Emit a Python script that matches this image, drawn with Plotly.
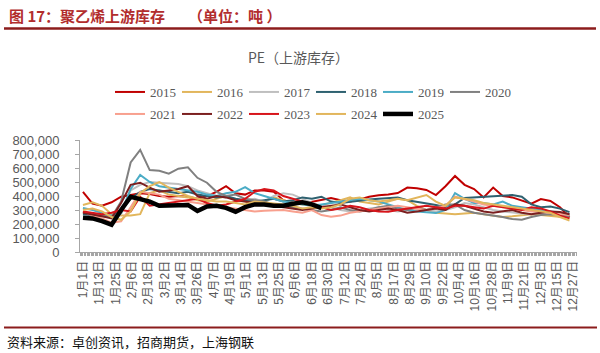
import pandas as pd
import plotly.graph_objects as go

# ---------------- data (thousand tons, weekly from 1 Jan) ----------------
years = ["2015", "2016", "2017", "2018", "2019", "2020",
         "2021", "2022", "2023", "2024", "2025"]

v2015 = [430, 345, 330, 355, 395, 410, 420, 415, 400, 395, 400, 395, 380, 400, 430, 470, 420, 410,
         440, 440, 430, 370, 350, 345, 360, 375, 385, 370, 360, 375, 395, 405, 410, 421, 460, 455,
         443, 407, 470, 543, 480, 450, 390, 460, 400, 390, 370, 345, 378, 365, 320, 250]
v2016 = [336, 355, 330, 270, 260, 260, 270, 420, 440, 410, 400, 390, 370, 360, 380, 400, 370, 360,
         340, 360, 390, 370, 350, 340, 330, 335, 350, 370, 390, 360, 350, 340, 360, 380, 370, 330,
         300, 280, 275, 270, 275, 280, 270, 260, 250, 255, 260, 270, 265, 260, 255, 245]
v2017 = [280, 270, 260, 250, 270, 440, 480, 500, 495, 490, 485, 470, 440, 420, 400, 390, 380, 370,
         380, 360, 400, 420, 410, 380, 350, 330, 320, 300, 290, 300, 310, 320, 300, 290, 300, 310,
         300, 290, 300, 320, 350, 340, 320, 300, 290, 280, 275, 270, 280, 275, 270, 260]
v2018 = [270, 265, 255, 250, 300, 380, 430, 450, 440, 430, 420, 430, 410, 400, 390, 400, 380, 370,
         360, 370, 380, 360, 370, 390, 380, 395, 360, 350, 360, 370, 375, 380, 385, 390, 370, 360,
         345, 335, 320, 340, 386, 390, 395, 400, 405, 407, 395, 340, 320, 325, 310, 285]
v2019 = [314, 300, 280, 260, 280, 450, 550, 500, 470, 460, 450, 440, 430, 410, 400, 420, 430, 464,
         420, 400, 380, 360, 350, 340, 330, 340, 350, 360, 370, 380, 370, 360, 340, 320, 300, 290,
         285, 278, 300, 421, 380, 350, 350, 340, 360, 330, 320, 310, 300, 290, 280, 270]
v2020 = [285, 270, 260, 250, 360, 640, 730, 585, 580, 560, 595, 605, 530, 495, 430, 400, 410, 380,
         370, 360, 340, 330, 320, 310, 300, 290, 300, 320, 300, 290, 300, 320, 330, 310, 300, 320,
         300, 320, 340, 340, 300, 280, 270, 265, 250, 235, 230, 250, 265, 270, 265, 250]
v2021 = [290, 260, 240, 210, 220, 320, 430, 420, 410, 380, 370, 360, 350, 340, 330, 320, 310, 300,
         290, 295, 300, 300, 290, 280, 300, 264, 252, 260, 280, 290, 300, 310, 320, 330, 320, 310,
         300, 310, 330, 395, 380, 360, 340, 330, 320, 310, 300, 290, 288, 280, 275, 264]
v2022 = [280, 270, 255, 240, 350, 480, 495, 460, 430, 440, 450, 470, 400, 380, 400, 390, 370, 360,
         350, 340, 330, 320, 310, 300, 310, 320, 330, 340, 320, 300, 290, 300, 310, 300, 280, 290,
         300, 310, 300, 340, 330, 310, 290, 280, 290, 300, 280, 270, 280, 290, 285, 270]
v2023 = [290, 280, 270, 280, 300, 290, 395, 330, 340, 350, 360, 370, 380, 350, 330, 340, 360, 380,
         430, 450, 440, 400, 380, 360, 340, 320, 300, 310, 330, 320, 300, 290, 288, 300, 310, 320,
         330, 320, 310, 330, 330, 320, 310, 330, 320, 310, 300, 320, 310, 290, 260, 240]
v2024 = [300, 310, 290, 250, 230, 290, 420, 470, 500, 460, 430, 400, 380, 370, 360, 360, 350, 340,
         360, 355, 345, 340, 330, 310, 320, 310, 320, 340, 380, 390, 370, 360, 370, 380, 370, 390,
         407, 360, 330, 390, 380, 370, 350, 340, 330, 320, 310, 300, 290, 280, 250, 225]
v2025 = [245, 240, 220, 195, 300, 395, 378, 360, 330, 333, 336, 336, 293, 325, 330, 315, 288, 320,
         340, 340, 330, 330, 345, 355, 340, 314]

series = {"2015": v2015, "2016": v2016, "2017": v2017, "2018": v2018, "2019": v2019,
          "2020": v2020, "2021": v2021, "2022": v2022, "2023": v2023, "2024": v2024,
          "2025": v2025}

colors = {"2015": "#C00000", "2016": "#E2B65C", "2017": "#BFBFBF", "2018": "#2E6170",
          "2019": "#4BACC6", "2020": "#808080", "2021": "#F8A08E", "2022": "#7B1F1F",
          "2023": "#D7141A", "2024": "#E2B65C", "2025": "#000000"}

week_dates = pd.date_range("2025-01-01", periods=52, freq="7D")

tick_labels = ["1月1日", "1月13日", "1月25日", "2月6日", "2月18日", "3月2日", "3月14日",
               "3月26日", "4月7日", "4月19日", "5月1日", "5月13日", "5月25日", "6月6日",
               "6月18日", "6月30日", "7月12日", "7月24日", "8月5日", "8月17日", "8月29日",
               "9月10日", "9月22日", "10月4日", "10月16日", "10月28日", "11月9日", "11月21日",
               "12月3日", "12月15日", "12月27日"]
tick_dates = pd.date_range("2025-01-01", periods=len(tick_labels), freq="12D")

# ---------------- layout geometry ----------------
W, H = 600, 353
L, R, T, B = 80, 577, 140, 252


def px(x):
    return (x - L) / (R - L)


def py(y):
    return (B - y) / (B - T)


GRAY = "#595959"
fig = go.Figure()

for yr in years:
    vals = [v * 1000 for v in series[yr]]
    fig.add_trace(go.Scatter(
        x=week_dates[:len(vals)], y=vals, mode="lines", name=yr,
        line=dict(color=colors[yr], width=4.5 if yr == "2025" else 2),
        legend="legend" if int(yr) <= 2020 else "legend2",
        hoverinfo="skip",
    ))

legend_common = dict(orientation="h", xanchor="left", yanchor="middle",
                      font=dict(family="Liberation Serif", size=13, color=GRAY),
                      bgcolor="rgba(0,0,0,0)", entrywidth=22, entrywidthmode="pixels",
                      itemwidth=30, tracegroupgap=0, traceorder="normal")

fig.update_layout(
    width=W, height=H,
    margin=dict(l=L, r=W - R, t=T, b=H - B, pad=0),
    paper_bgcolor="white", plot_bgcolor="white",
    showlegend=True,
    legend=dict(x=px(110), y=py(92), **legend_common),
    legend2=dict(x=px(110), y=py(114), **legend_common),
    xaxis=dict(
        type="date",
        range=["2024-12-29 20:00", "2025-12-29 12:00"],
        tickmode="array", tickvals=tick_dates, ticktext=tick_labels,
        tickangle=-90, ticks="outside", ticklen=3, tickcolor="#A6A6A6",
        tickfont=dict(family="Liberation Sans, Noto Sans CJK SC", size=12, color=GRAY),
        showline=True, linecolor="#A6A6A6", linewidth=1,
        showgrid=False, zeroline=False,
        minor=dict(dtick=86400000, tick0="2025-01-01", ticks="outside", ticklen=3,
                   tickcolor="#A6A6A6", showgrid=False),
    ),
    yaxis=dict(
        range=[0, 800000], tickmode="linear", tick0=0, dtick=100000,
        tickformat=",d", ticks="outside", ticklen=4, tickcolor="#A6A6A6",
        tickfont=dict(family="Liberation Sans, Arial", size=13, color=GRAY),
        showline=True, linecolor="#A6A6A6", linewidth=1,
        showgrid=False, zeroline=False, ticklabelstandoff=13,
    ),
    annotations=[
        dict(text="<b>图 17：聚乙烯上游库存</b>", xref="paper", yref="paper",
             x=px(7), y=py(15), xanchor="left", yanchor="middle", showarrow=False,
             font=dict(family="Noto Sans CJK SC", size=15, color="#B22D2D")),
        dict(text="<b>（单位：吨 ）</b>", xref="paper", yref="paper",
             x=px(186), y=py(15), xanchor="left", yanchor="middle", showarrow=False,
             font=dict(family="Noto Sans CJK SC", size=15, color="#B22D2D")),
        dict(text="PE（上游库存）", xref="paper", yref="paper",
             x=px(298), y=py(57), xanchor="center", yanchor="middle", showarrow=False,
             font=dict(family="Noto Sans CJK SC", size=14, color=GRAY)),
        dict(text="资料来源：卓创资讯，招商期货，上海钢联", xref="paper", yref="paper",
             x=px(5), y=py(341), xanchor="left", yanchor="middle", showarrow=False,
             font=dict(family="Noto Sans CJK SC", size=13, color="#111111")),
    ],
    shapes=[
        dict(type="line", xref="paper", yref="paper", x0=px(4), x1=px(596),
             y0=py(28.5), y1=py(28.5), line=dict(color="#8C1C1C", width=2.5)),
        dict(type="line", xref="paper", yref="paper", x0=px(4), x1=px(597),
             y0=py(327.5), y1=py(327.5), line=dict(color="#8C1C1C", width=2)),
    ],
)

fig.write_html("out.html")
